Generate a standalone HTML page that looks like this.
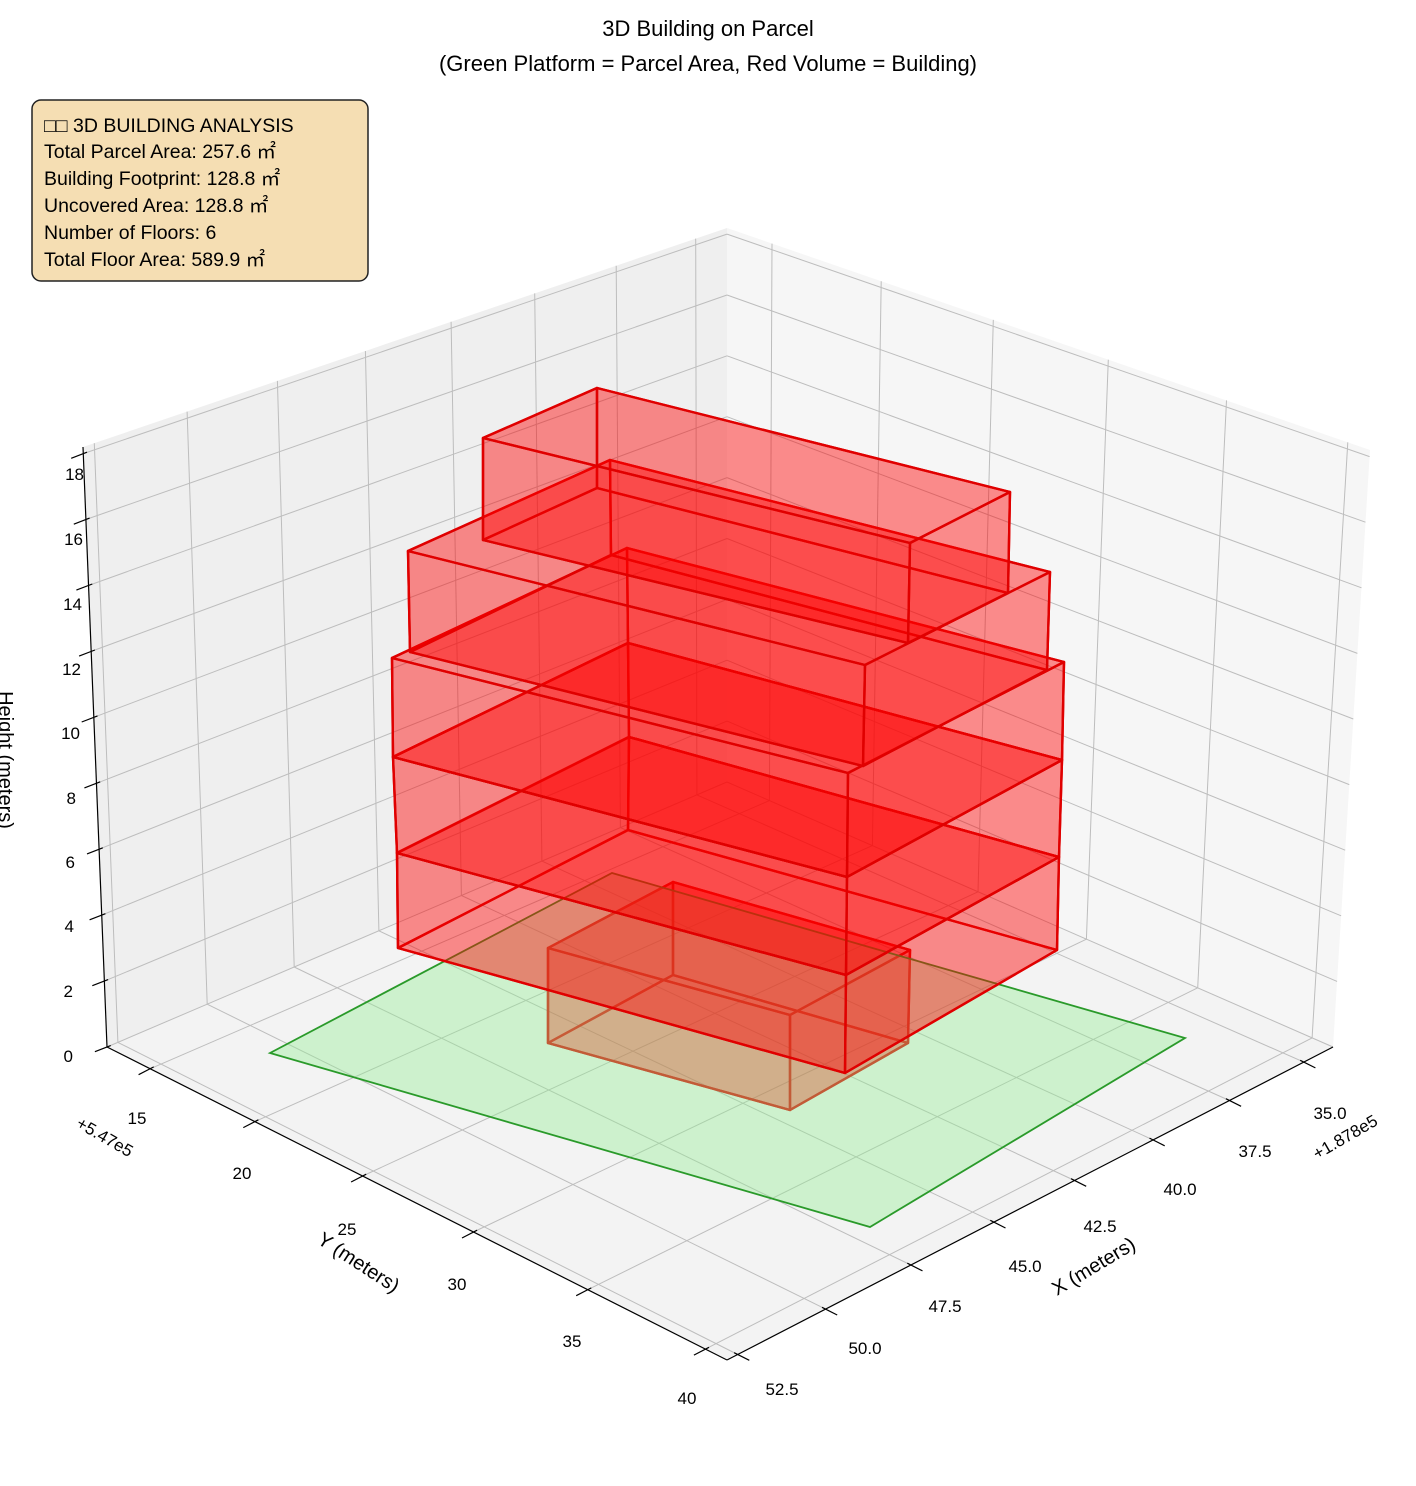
<!DOCTYPE html>
<html><head><meta charset="utf-8"><style>
html,body{margin:0;padding:0;background:#fff;}
svg{display:block;}
text{font-family:"Liberation Sans","DejaVu Sans",sans-serif;fill:#000;}
</style></head><body>
<svg id="s" width="1416" height="1486" viewBox="0 0 1416 1486" xmlns="http://www.w3.org/2000/svg">
<rect width="1416" height="1486" fill="#fff"/>
<g id="panes"></g>
<g id="grid" stroke="#bdbdbd" stroke-width="1" fill="none"></g>
<g id="axes" stroke="#000" stroke-width="1.2" fill="none"></g>
<g id="boxF"></g>
<polygon points="270,1053 612,873 1185,1038 870,1227" fill="rgb(144,238,144)" fill-opacity="0.38" stroke="#2a9a2a" stroke-width="1.8"/>
<g id="boxes"></g>
<g font-size="19">
<text x="708" y="36" text-anchor="middle" font-size="22">3D Building on Parcel</text>
<text x="708" y="71" text-anchor="middle" font-size="22">(Green Platform = Parcel Area, Red Volume = Building)</text>
</g>
<rect x="32" y="100" width="336" height="181" rx="9" fill="#f5deb3" stroke="#222" stroke-width="1.5"/>
<g font-size="19.5">
<text x="44" y="132">□□ 3D BUILDING ANALYSIS</text>
<text x="44" y="158">Total Parcel Area: 257.6 ㎡</text>
<text x="44" y="185">Building Footprint: 128.8 ㎡</text>
<text x="44" y="212">Uncovered Area: 128.8 ㎡</text>
<text x="44" y="239">Number of Floors: 6</text>
<text x="44" y="266">Total Floor Area: 589.9 ㎡</text>
</g>
<g font-size="17" text-anchor="end">
<text x="73" y="1062">0</text><text x="73" y="997">2</text><text x="74" y="932">4</text>
<text x="75" y="868">6</text><text x="76" y="804">8</text><text x="80" y="739">10</text>
<text x="81" y="675">12</text><text x="82" y="610">14</text><text x="83" y="545">16</text><text x="84" y="480">18</text>
</g>
<g font-size="17" text-anchor="middle">
<text x="137" y="1124">15</text><text x="242" y="1179">20</text><text x="347" y="1235">25</text>
<text x="457" y="1290">30</text><text x="572" y="1347">35</text><text x="687" y="1404">40</text>
<text x="1330" y="1119">35.0</text><text x="1255" y="1157">37.5</text><text x="1180" y="1195">40.0</text>
<text x="1100" y="1232">42.5</text><text x="1025" y="1272">45.0</text><text x="945" y="1312">47.5</text>
<text x="865" y="1354">50.0</text><text x="782" y="1395">52.5</text>
</g>
<text font-size="17" text-anchor="middle" transform="translate(102,1142) rotate(30)">+5.47e5</text>
<text font-size="17" text-anchor="middle" transform="translate(1348,1142) rotate(-30)">+1.878e5</text>
<text font-size="20" text-anchor="middle" transform="translate(355,1268) rotate(33)">Y (meters)</text>
<text font-size="20" text-anchor="middle" transform="translate(1097,1272) rotate(-31)">X (meters)</text>
<text font-size="20" text-anchor="middle" transform="translate(-1,760) rotate(90)">Height (meters)</text>
</svg>
<script>
(function(){
var NS="http://www.w3.org/2000/svg";
function el(parent,tag,attrs){var e=document.createElementNS(NS,tag);for(var k in attrs)e.setAttribute(k,attrs[k]);document.getElementById(parent).appendChild(e);return e;}
var C={B:{p0:[727,782],p1:[727,228],w:1},L:{p0:[107,1047],p1:[83,447],w:0.908},R:{p0:[1333,1047],p1:[1370,450],w:0.929},F:{p0:[727,1360],p1:[742,712],w:0.837}};
function P(a,b,c){
 var cs=[[C.B,(1-a)*(1-b)],[C.L,a*(1-b)],[C.R,(1-a)*b],[C.F,a*b]];
 var sx=0,sy=0,sw=0;
 cs.forEach(function(q){var k=q[0],bw=q[1]*k.w;var x=k.p0[0]+(k.p1[0]-k.p0[0])*c,y=k.p0[1]+(k.p1[1]-k.p0[1])*c;sx+=bw*x;sy+=bw*y;sw+=bw;});
 return [sx/sw,sy/sw];
}
function A(x){return (x-34)/18.8;} function Bf(y){return (y-12.9)/28;} function Cz(z){return z/18.2;}
function pts(a){return a.map(function(p){return p[0].toFixed(1)+","+p[1].toFixed(1);}).join(" ");}
el("panes","polygon",{points:pts([P(0,0,0),P(1,0,0),P(1,0,1),P(0,0,1)]),fill:"#efefef"});
el("panes","polygon",{points:pts([P(0,0,0),P(0,1,0),P(0,1,1),P(0,0,1)]),fill:"#f6f6f6"});
el("panes","polygon",{points:pts([P(0,0,0),P(1,0,0),P(1,1,0),P(0,1,0)]),fill:"#f3f3f3"});
function line(g,p,q,extra){var o={x1:p[0].toFixed(1),y1:p[1].toFixed(1),x2:q[0].toFixed(1),y2:q[1].toFixed(1)};for(var k in extra)o[k]=extra[k];el(g,"line",o);}
var xt=[35,37.5,40,42.5,45,47.5,50,52.5], yt=[15,20,25,30,35,40], zt=[0,2,4,6,8,10,12,14,16,18];
xt.forEach(function(x){var a=A(x);line("grid",P(a,0,0),P(a,0,1));line("grid",P(a,0,0),P(a,1,0));});
yt.forEach(function(y){var b=Bf(y);line("grid",P(0,b,0),P(0,b,1));line("grid",P(0,b,0),P(1,b,0));});
zt.forEach(function(z){var c=Cz(z);line("grid",P(1,0,c),P(0,0,c));line("grid",P(0,0,c),P(0,1,c));});
line("axes",P(1,0,0),P(1,0,1));line("axes",P(1,0,0),P(1,1,0));line("axes",P(1,1,0),P(0,1,0));
function tick(p,d){line("axes",[p[0]-d[0]*4,p[1]-d[1]*4],[p[0]+d[0]*13,p[1]+d[1]*13]);}
xt.forEach(function(x){tick(P(A(x),1,0),[0.893,0.451]);});
yt.forEach(function(y){tick(P(1,Bf(y),0),[-0.889,0.459]);});
zt.forEach(function(z){tick(P(1,0,Cz(z)),[-0.93,0.36]);});
function box(g,top,bot,stroke){
 var faces=[bot,top];
 for(var i=0;i<4;i++){var j=(i+1)%4;faces.push([top[i],top[j],bot[j],bot[i]]);}
 faces.forEach(function(f){el(g,"polygon",{points:pts(f),fill:"#ff0000","fill-opacity":"0.25",stroke:stroke,"stroke-width":"2.4","stroke-linejoin":"round"});});
}
box("boxF",[[548,948],[673,882],[910,950],[790,1015]],[[548,1043],[673,975],[908,1043],[790,1110]],"#e00000");
box("boxes",[[397,853],[629,737],[1059,857],[846,975]],[[398,948],[628,830],[1057,950],[845,1073]],"#e00000");
box("boxes",[[393,757],[628,643],[1062,760],[847,877]],[[397,853],[629,737],[1059,857],[846,975]],"#e00000");
box("boxes",[[392,658],[627,548],[1064,662],[848,773]],[[393,757],[628,643],[1062,760],[847,877]],"#e00000");
box("boxes",[[408,551],[610,460],[1050,572],[865,665]],[[410,652],[611,555],[1047,670],[863,766]],"#e00000");
box("boxes",[[483,438],[597,388],[1010,492],[910,543]],[[483,540],[597,488],[1008,593],[908,643]],"#e00000");
})();
</script>
</body></html>
